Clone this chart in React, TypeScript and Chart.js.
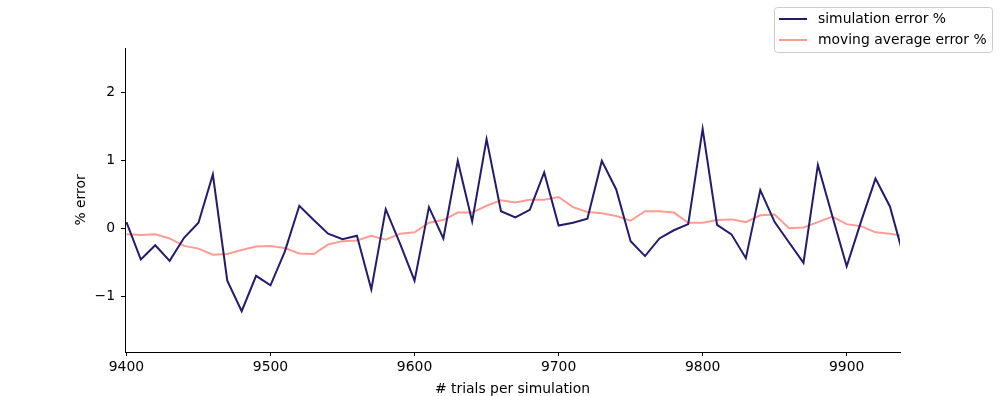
import React, { useEffect, useRef } from 'react';
import { Chart, registerables } from 'chart.js';

Chart.register(...registerables);

const trials = [
  9400, 9410, 9420, 9430, 9440, 9450, 9460, 9470, 9480, 9490,
  9500, 9510, 9520, 9530, 9540, 9550, 9560, 9570, 9580, 9590,
  9600, 9610, 9620, 9630, 9640, 9650, 9660, 9670, 9680, 9690,
  9700, 9710, 9720, 9730, 9740, 9750, 9760, 9770, 9780, 9790,
  9800, 9810, 9820, 9830, 9840, 9850, 9860, 9870, 9880, 9890,
  9900, 9910, 9920, 9930, 9940,
];

const simulationError = [
  0.09, -0.46, -0.25, -0.48, -0.14, 0.08, 0.79, -0.77, -1.22, -0.70,
  -0.84, -0.34, 0.33, 0.12, -0.08, -0.16, -0.11, -0.90, 0.28, -0.23,
  -0.77, 0.31, -0.15, 0.99, 0.10, 1.31, 0.25, 0.16, 0.27, 0.82,
  0.04, 0.08, 0.14, 0.99, 0.57, -0.19, -0.41, -0.15, -0.03, 0.06,
  1.46, 0.05, -0.09, -0.44, 0.56, 0.09, -0.21, -0.51, 0.93, 0.18,
  -0.56, 0.10, 0.73, 0.32, -0.45,
];

const movingAverageError = [
  -0.09, -0.10, -0.09, -0.15, -0.26, -0.30, -0.39, -0.38, -0.32, -0.27,
  -0.26, -0.29, -0.37, -0.38, -0.24, -0.19, -0.18, -0.11, -0.17, -0.08,
  -0.06, 0.08, 0.12, 0.23, 0.23, 0.33, 0.41, 0.38, 0.42, 0.42,
  0.46, 0.31, 0.24, 0.22, 0.18, 0.11, 0.25, 0.25, 0.23, 0.08,
  0.08, 0.12, 0.13, 0.09, 0.19, 0.20, 0.00, 0.01, 0.09, 0.17,
  0.06, 0.03, -0.06, -0.08, -0.12,
];

const xTicks = [9400, 9500, 9600, 9700, 9800, 9900];
const yTicks = [-1, 0, 1, 2];

const seriesLabels = ['simulation error %', 'moving average error %'];
const seriesColors = ['#231b6b', '#fa9d94'];

const FONT = 'DejaVu Sans';
const FS = 13.9;

const legendPlugin = {
  id: 'boxLegend',
  afterDraw(chart: any) {
    const ctx = chart.ctx as CanvasRenderingContext2D;
    ctx.save();
    const x = 774.5, y = 7.5, w = 218, h = 45, r = 3;
    ctx.beginPath();
    ctx.moveTo(x + r, y);
    ctx.lineTo(x + w - r, y);
    ctx.quadraticCurveTo(x + w, y, x + w, y + r);
    ctx.lineTo(x + w, y + h - r);
    ctx.quadraticCurveTo(x + w, y + h, x + w - r, y + h);
    ctx.lineTo(x + r, y + h);
    ctx.quadraticCurveTo(x, y + h, x, y + h - r);
    ctx.lineTo(x, y + r);
    ctx.quadraticCurveTo(x, y, x + r, y);
    ctx.closePath();
    ctx.fillStyle = 'rgba(255,255,255,0.8)';
    ctx.fill();
    ctx.strokeStyle = '#cccccc';
    ctx.lineWidth = 1;
    ctx.stroke();
    ctx.font = `${FS}px "${FONT}"`;
    ctx.textBaseline = 'middle';
    ctx.textAlign = 'left';
    seriesLabels.forEach((label, i) => {
      const ly = 19 + i * 21;
      ctx.beginPath();
      ctx.moveTo(779, ly);
      ctx.lineTo(807, ly);
      ctx.strokeStyle = seriesColors[i];
      ctx.lineWidth = 2;
      ctx.stroke();
      ctx.fillStyle = '#000';
      ctx.fillText(label, 818, ly);
    });
    ctx.restore();
  },
};

export default function App() {
  const ref = useRef<HTMLCanvasElement>(null);

  useEffect(() => {
    if (!ref.current) return;
    Chart.defaults.font.family = FONT;
    Chart.defaults.font.size = FS;
    Chart.defaults.color = '#000';
    const chart = new Chart(ref.current, {
      type: 'line',
      data: {
        datasets: [
          {
            label: seriesLabels[0],
            data: trials.map((t, i) => ({ x: t, y: simulationError[i] })),
            borderColor: seriesColors[0],
            backgroundColor: seriesColors[0],
            borderWidth: 2,
            pointRadius: 0,
            tension: 0,
          },
          {
            label: seriesLabels[1],
            data: trials.map((t, i) => ({ x: t, y: movingAverageError[i] })),
            borderColor: seriesColors[1],
            backgroundColor: seriesColors[1],
            borderWidth: 2,
            pointRadius: 0,
            tension: 0,
          },
        ],
      },
      options: {
        animation: false,
        responsive: false,
        maintainAspectRatio: false,
        layout: { padding: { left: 0, right: 100, top: 48, bottom: -2 } },
        plugins: { legend: { display: false }, tooltip: { enabled: false } },
        scales: {
          x: {
            type: 'linear',
            min: 9399,
            max: 9937,
            afterBuildTicks: (s: any) => {
              s.ticks = xTicks.map((v) => ({ value: v }));
            },
            afterFit: (s: any) => {
              s.height = 46;
            },
            grid: {
              drawOnChartArea: false,
              drawTicks: true,
              tickLength: 4,
              color: '#000',
            },
            border: { display: true, color: '#000', width: 1 },
            ticks: {
              padding: 3,
              maxRotation: 0,
              autoSkip: false,
              callback: (v: any) => String(v),
              font: { family: FONT, size: FS },
              color: '#000',
            },
            title: {
              display: true,
              text: '# trials per simulation',
              padding: { top: 0, bottom: 0 },
              font: { family: FONT, size: FS },
              color: '#000',
            },
          },
          y: {
            type: 'linear',
            min: -1.82,
            max: 2.65,
            afterBuildTicks: (s: any) => {
              s.ticks = yTicks.map((v) => ({ value: v }));
            },
            afterFit: (s: any) => {
              s.width = 125;
            },
            grid: {
              drawOnChartArea: false,
              drawTicks: true,
              tickLength: 4,
              color: '#000',
            },
            border: { display: true, color: '#000', width: 1 },
            ticks: {
              padding: 6,
              autoSkip: false,
              callback: (v: any) => (v < 0 ? '\u2212' + Math.abs(v) : String(v)),
              font: { family: FONT, size: FS },
              color: '#000',
            },
            title: {
              display: true,
              text: '% error',
              padding: { top: 73.5, bottom: 0 },
              font: { family: FONT, size: FS },
              color: '#000',
            },
          },
        },
      },
      plugins: [legendPlugin],
    } as any);
    return () => chart.destroy();
  }, []);

  return (
    <div style={{ position: 'fixed', left: 0, top: 0, width: 1000, height: 396, background: '#fff' }}>
      <canvas ref={ref} width={1000} height={396} style={{ width: 1000, height: 396, display: 'block' }} />
    </div>
  );
}
